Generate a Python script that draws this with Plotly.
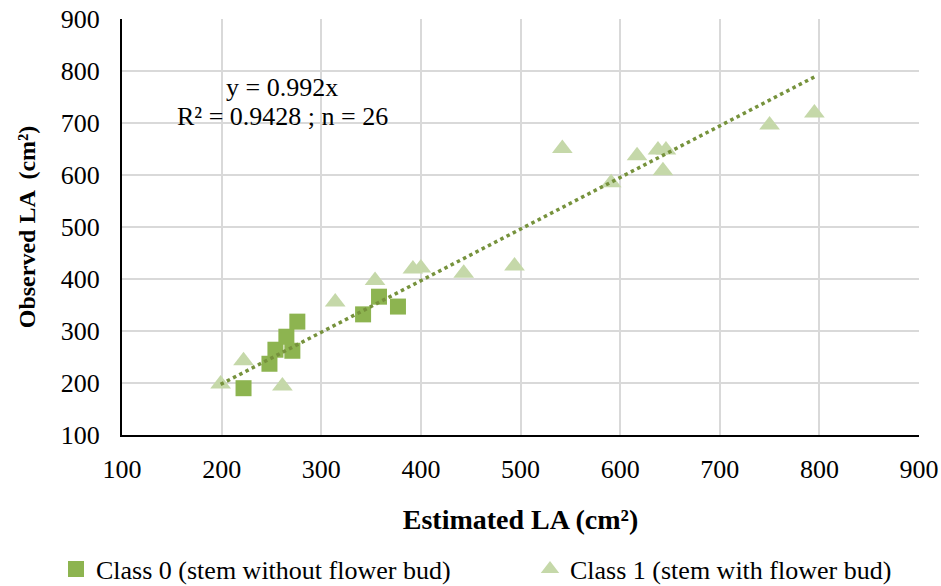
import plotly.graph_objects as go

# Class 0 (stem without flower bud)
c0_est = [222, 248, 254, 265, 276, 271, 342, 358, 377]
c0_obs = [190, 237, 264, 289, 318, 262, 332, 366, 347]

# Class 1 (stem with flower bud)
c1_est = [199, 222, 261, 314, 354, 392, 400, 443, 494, 542, 591, 617, 638, 646, 643, 750, 795]
c1_obs = [198, 243, 194, 356, 397, 419, 421, 411, 425, 651, 585, 637, 648, 648, 608, 696, 719]

slope = 0.992
axis_ticks = [100, 200, 300, 400, 500, 600, 700, 800, 900]

all_x = c0_est + c1_est
xmin, xmax = min(all_x), max(all_x)
trend_x = [xmin, xmax]
trend_y = [slope * v for v in trend_x]

font_family = "Liberation Serif, Times New Roman, serif"

W, H = 941, 586

fig = go.Figure()
fig.add_trace(go.Scatter(
    x=c0_est, y=c0_obs, mode="markers",
    name="Class 0 (stem without flower bud)",
    marker=dict(symbol="square", size=16, color="#8DB450"),
    legend="legend",
))
fig.add_trace(go.Scatter(
    x=c1_est, y=c1_obs, mode="markers",
    name="Class 1 (stem with flower bud)",
    marker=dict(symbol="triangle-up", size=18, color="#C5D8A9"),
    legend="legend2",
))
fig.add_trace(go.Scatter(
    x=trend_x, y=trend_y, mode="lines", showlegend=False,
    line=dict(color="#76923C", width=3.5, dash="dot"),
    hoverinfo="skip",
))

legend_common = dict(
    orientation="h", xref="container", yref="container",
    xanchor="left", yanchor="middle", y=1 - 569 / H,
    font=dict(size=26, family=font_family),
    itemsizing="trace", bgcolor="rgba(0,0,0,0)",
    tracegroupgap=0,
)

fig.update_layout(
    width=W, height=H,
    margin=dict(l=122, r=22, t=19, b=151, autoexpand=False),
    paper_bgcolor="white", plot_bgcolor="white",
    font=dict(family=font_family, size=26, color="#000000"),
    showlegend=True,
    legend=dict(legend_common, x=56 / W),
    legend2=dict(legend_common, x=530 / W),
    annotations=[
        dict(x=261, y=769, xref="x", yref="y", showarrow=False,
             text="y = 0.992x", font=dict(size=26, family=font_family)),
        dict(x=261, y=713, xref="x", yref="y", showarrow=False,
             text="R² = 0.9428 ; n = 26", font=dict(size=26, family=font_family)),
    ],
)

fig.update_xaxes(
    range=[100, 900], tickvals=axis_ticks, ticktext=[str(t) for t in axis_ticks],
    showgrid=True, gridcolor="#D9D9D9", gridwidth=1.5,
    showline=True, linecolor="#000000", linewidth=2,
    zeroline=False, ticks="", ticklabelstandoff=10,
    ticklabeloverflow="allow",
    tickfont=dict(size=26, family=font_family),
    title=dict(text="<b>Estimated LA (cm²)</b>", standoff=26,
               font=dict(size=28, family=font_family)),
)
fig.update_yaxes(
    range=[100, 900], tickvals=axis_ticks, ticktext=[str(t) for t in axis_ticks],
    showgrid=True, gridcolor="#D9D9D9", gridwidth=1.5,
    showline=True, linecolor="#000000", linewidth=2,
    zeroline=False, ticks="", ticklabelstandoff=15,
    ticklabeloverflow="allow",
    tickfont=dict(size=26, family=font_family),
    title=dict(text="<b>Observed LA  (cm²)</b>", standoff=18,
               font=dict(size=24, family=font_family)),
)

fig.write_html(
    "out.html",
    config={"displayModeBar": False},
    post_script="document.body.style.margin='0';document.body.style.overflow='hidden';",
)
